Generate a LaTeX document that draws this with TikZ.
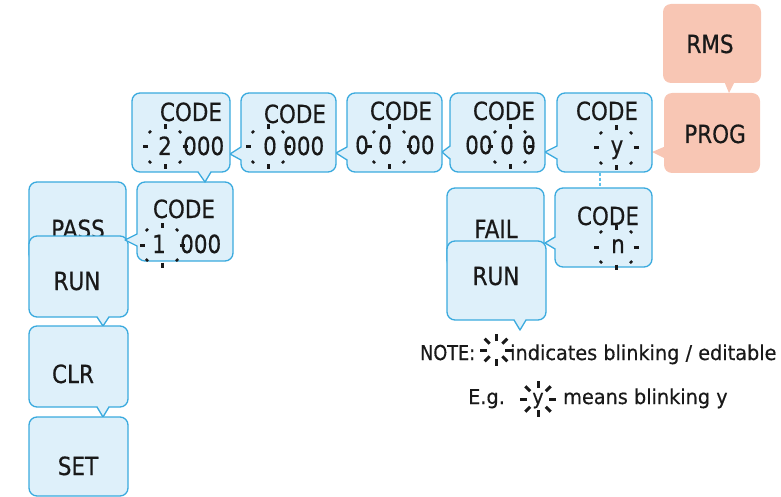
\documentclass[tikz,border=0pt]{standalone}
\usepackage{fontspec}
\setmainfont{DejaVu Sans}[FakeStretch=0.94,FakeBold=0.4]
\newfontfamily\boxfont{DejaVu Sans}[FakeStretch=0.86,FakeBold=0.5]
\usetikzlibrary{calc}
\newlength{\du}
\setlength{\du}{1pt}
\definecolor{bubblefill}{RGB}{222,240,250}
\definecolor{bubbleline}{RGB}{58,170,222}
\definecolor{progfill}{RGB}{248,198,180}
\definecolor{dotline}{RGB}{95,195,236}
\definecolor{inkcolor}{RGB}{25,25,25}
\tikzset{
  bubble/.style={rectangle, rounded corners=8\du, draw=bubbleline, fill=bubblefill, line width=1.3\du, inner sep=0pt},
  progbubble/.style={rectangle, rounded corners=8\du, fill=progfill, inner sep=0pt},
  pointerline/.style={draw=bubbleline, line width=1.3\du, line join=round},
  boxtext/.style={anchor=base, inner sep=0pt, text=inkcolor, font=\boxfont\fontsize{25}{29}\selectfont},
  notetext/.style={anchor=base west, inner sep=0pt, text=inkcolor, font=\fontsize{20.5}{24}\selectfont},
  blinkray/.style={line width=3\du, inkcolor},
  dotconn/.style={draw=dotline, line width=2.6\du, dash pattern=on 3\du off 2\du}
}
% blink marks: x, y, inner, outer, diagonal inner
\newcommand{\blinkmark}[5]{%
\draw[blinkray] (#1\du,#2\du) ++(0:#3\du) -- ++(0:#4\du-#3\du);
\draw[blinkray] (#1\du,#2\du) ++(90:#3\du) -- ++(90:#4\du-#3\du);
\draw[blinkray] (#1\du,#2\du) ++(180:#3\du) -- ++(180:#4\du-#3\du);
\draw[blinkray] (#1\du,#2\du) ++(270:#3\du) -- ++(270:#4\du-#3\du);
\draw[blinkray] (#1\du,#2\du) ++(45:#5\du) -- ++(45:#4\du-#5\du);
\draw[blinkray] (#1\du,#2\du) ++(135:#5\du) -- ++(135:#4\du-#5\du);
\draw[blinkray] (#1\du,#2\du) ++(225:#5\du) -- ++(225:#4\du-#5\du);
\draw[blinkray] (#1\du,#2\du) ++(315:#5\du) -- ++(315:#4\du-#5\du);
}
\begin{document}
\begin{tikzpicture}
\pgftransformxscale{1.000000}
\pgftransformyscale{-1.000000}
\useasboundingbox (0\du,0\du) rectangle (781\du,497\du);
% RMS / PROG
\node[progbubble, minimum width=98\du, minimum height=79\du] (rms) at (712\du,43.5\du) {};
\fill[progfill] (724\du,81\du)--(729\du,93\du)--(735\du,81\du)--cycle;
\node[boxtext] (rmstxt) at (710\du,53\du) {RMS};
\node[progbubble, minimum width=96\du, minimum height=80\du] (prog) at (712\du,133\du) {};
\fill[progfill] (666\du,146\du)--(652\du,152\du)--(666\du,159\du)--cycle;
\node[boxtext] (progtxt) at (715\du,143\du) {PROG};
% CODE y
\node[bubble, minimum width=95\du, minimum height=79\du] (codey) at (604.5\du,132.5\du) {};
\fill[bubblefill] (558.5\du,146\du)--(545\du,152\du)--(558.5\du,159\du)--cycle;
\draw[pointerline] (557\du,146\du)--(545\du,152\du)--(557\du,159\du);
\node[boxtext] (codeytxt) at (607\du,120\du) {CODE};
\node[boxtext] (codeyval) at (617\du,154\du) {y};
\blinkmark{616}{148}{17.5}{22.5}{20}
% CODE 00 0 0
\node[bubble, minimum width=95\du, minimum height=79\du] (codec) at (497.5\du,132.5\du) {};
\fill[bubblefill] (451.5\du,146\du)--(442\du,152\du)--(451.5\du,159\du)--cycle;
\draw[pointerline] (450\du,146\du)--(442\du,152\du)--(450\du,159\du);
\node[boxtext] (codectxt) at (504\du,120\du) {CODE};
\node[boxtext, anchor=base west] (codecvala) at (465\du,154\du) {00};
\node[boxtext] (codecvalb) at (507\du,154\du) {0};
\node[boxtext] (codecvalc) at (529\du,154\du) {0};
\blinkmark{510}{147}{17.5}{22.5}{20}
% CODE 0 0 00
\node[bubble, minimum width=95\du, minimum height=79\du] (codeb) at (394.5\du,132.5\du) {};
\fill[bubblefill] (348.5\du,147\du)--(336\du,153\du)--(348.5\du,160\du)--cycle;
\draw[pointerline] (347\du,147\du)--(336\du,153\du)--(347\du,160\du);
\node[boxtext] (codebtxt) at (401\du,120\du) {CODE};
\node[boxtext] (codebvala) at (362\du,154\du) {0};
\node[boxtext] (codebvalb) at (385\du,154\du) {0};
\node[boxtext, anchor=base west] (codebvalc) at (407\du,154\du) {00};
\blinkmark{389}{147}{17.5}{22.5}{20}
% CODE 0 000
\node[bubble, minimum width=95\du, minimum height=79\du] (codea) at (288.5\du,132.5\du) {};
\fill[bubblefill] (242.5\du,147\du)--(230\du,154\du)--(242.5\du,160\du)--cycle;
\draw[pointerline] (241\du,147\du)--(230\du,154\du)--(241\du,160\du);
\node[boxtext] (codeatxt) at (295\du,123\du) {CODE};
\node[boxtext] (codeavala) at (270\du,155\du) {0};
\node[boxtext, anchor=base west] (codeavalb) at (283\du,155\du) {000};
\blinkmark{268}{147}{17.5}{22.5}{20}
% CODE 2 000
\node[bubble, minimum width=98\du, minimum height=79\du] (codetwo) at (181\du,132.5\du) {};
\node[boxtext] (codetwotxt) at (191\du,121\du) {CODE};
\node[boxtext] (codetwovala) at (165\du,155\du) {2};
\node[boxtext, anchor=base west] (codetwovalb) at (183\du,155\du) {000};
\blinkmark{165}{147}{17.5}{22.5}{20}
% PASS / RUN / CLR / SET
\node[bubble, minimum width=97\du, minimum height=80\du] (pass) at (77.5\du,222\du) {};
\node[boxtext] (passtxt) at (78\du,238\du) {PASS};
\node[bubble, minimum width=99\du, minimum height=81\du] (runa) at (78.5\du,276.5\du) {};
\fill[bubblefill] (97\du,315.5\du)--(103\du,326\du)--(109\du,315.5\du)--cycle;
\draw[pointerline] (97\du,317\du)--(103\du,326\du)--(109\du,317\du);
\node[boxtext] (runatxt) at (77\du,290\du) {RUN};
\node[bubble, minimum width=99\du, minimum height=81\du] (clr) at (78.5\du,366.5\du) {};
\fill[bubblefill] (97\du,405.5\du)--(103\du,417\du)--(109\du,405.5\du)--cycle;
\draw[pointerline] (97\du,407\du)--(103\du,417\du)--(109\du,407\du);
\node[boxtext] (clrtxt) at (73\du,383\du) {CLR};
\node[bubble, minimum width=99\du, minimum height=79\du] (set) at (78.5\du,456.5\du) {};
\node[boxtext] (settxt) at (78\du,475\du) {SET};
% CODE 1 000
\node[bubble, minimum width=96\du, minimum height=79\du] (codeone) at (185\du,221.5\du) {};
\fill[bubblefill] (138.5\du,234\du)--(125\du,240\du)--(138.5\du,246\du)--cycle;
\draw[pointerline] (137\du,234\du)--(125\du,240\du)--(137\du,246\du);
\node[boxtext] (codeonetxt) at (184\du,218\du) {CODE};
\node[boxtext] (codeonevala) at (159\du,253\du) {1};
\node[boxtext, anchor=base west] (codeonevalb) at (180\du,253\du) {000};
\blinkmark{162}{245}{17.5}{22.5}{20}
\fill[bubblefill] (198\du,170.5\du)--(205\du,182\du)--(211\du,170.5\du)--cycle;
\draw[pointerline] (198\du,172\du)--(205\du,182\du)--(211\du,172\du);
% FAIL / RUN
\node[bubble, minimum width=97\du, minimum height=80\du] (fail) at (495.5\du,228\du) {};
\node[boxtext] (failtxt) at (496\du,238\du) {FAIL};
\node[bubble, minimum width=99\du, minimum height=79\du] (runb) at (496.5\du,280.5\du) {};
\fill[bubblefill] (514\du,318.5\du)--(520\du,330\du)--(526\du,318.5\du)--cycle;
\draw[pointerline] (514\du,320\du)--(520\du,330\du)--(526\du,320\du);
\node[boxtext] (runbtxt) at (496\du,285\du) {RUN};
% CODE n
\node[bubble, minimum width=97\du, minimum height=79\du] (coden) at (603.5\du,227.5\du) {};
\fill[bubblefill] (556.5\du,237\du)--(545\du,243\du)--(556.5\du,249\du)--cycle;
\draw[pointerline] (555\du,237\du)--(545\du,243\du)--(555\du,249\du);
\node[boxtext] (codentxt) at (608\du,225\du) {CODE};
\node[boxtext] (codenval) at (618\du,253\du) {n};
\blinkmark{616}{247}{17.5}{22.5}{20}
\draw[dotconn] ([xshift=-4.5\du]codey.south) -- ([xshift=-3.5\du]coden.north);
% note
\node[notetext, font=\boxfont\fontsize{20.5}{24}\selectfont] (notehead) at (420\du,360\du) {NOTE:};
\blinkmark{496}{350}{9}{16}{9}
\node[notetext] (notebody) at (510\du,360\du) {indicates blinking / editable};
\node[notetext] (eghead) at (468\du,404\du) {E.g.};
\node[notetext, anchor=base] (egval) at (538\du,404\du) {y};
\blinkmark{538}{399}{11}{18}{11}
\node[notetext] (egbody) at (563\du,404\du) {means blinking y};
\end{tikzpicture}
\end{document}
